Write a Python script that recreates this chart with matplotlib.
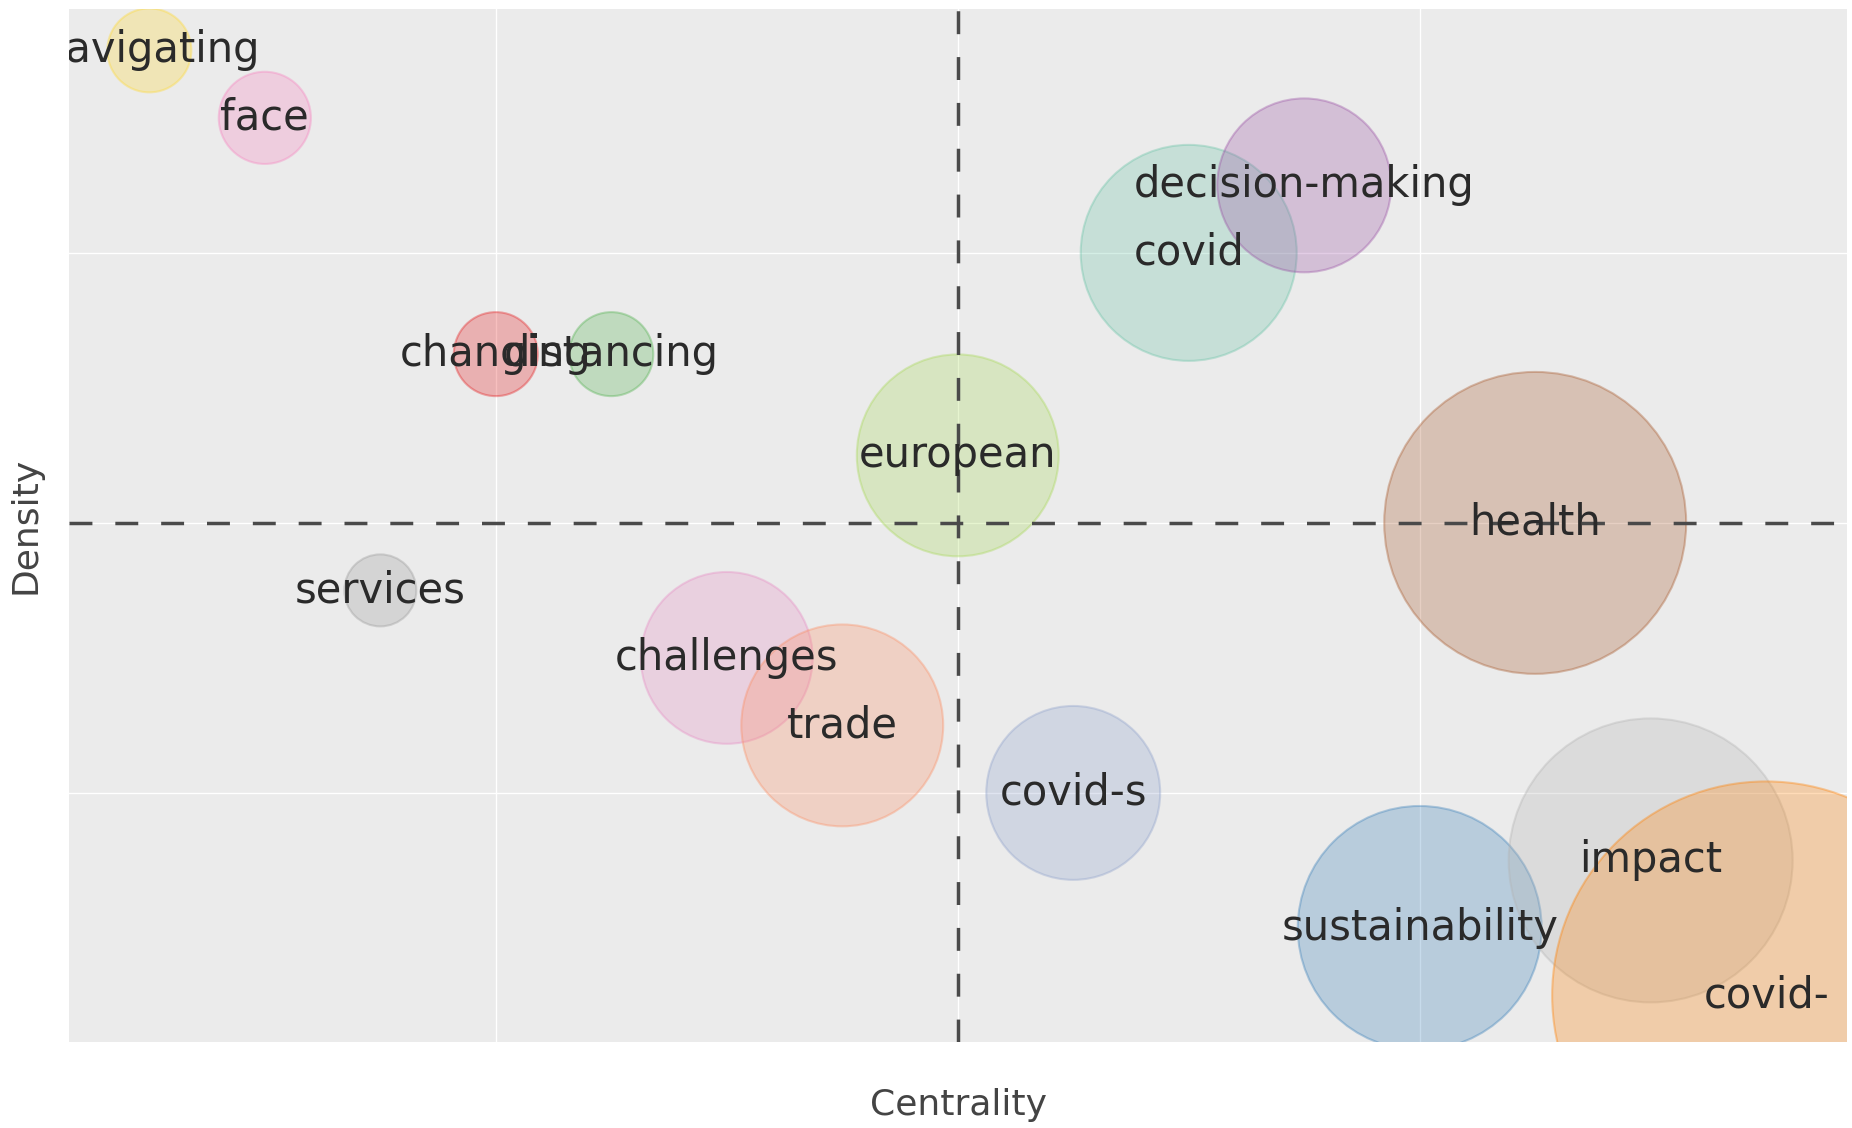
import numpy as np
import matplotlib
matplotlib.use("Agg")
import matplotlib.pyplot as plt
from matplotlib.colors import to_rgba

# ---- data (thematic map: rank centrality vs rank density) ----
themes = ["navigating", "face", "changing", "distancing", "european",
          "covid", "decision-making", "health", "services", "challenges",
          "trade", "covid-s", "sustainability", "impact", "covid-"]
centrality_rank = [1, 2, 4, 5, 8, 10, 11, 13, 3, 6, 7, 9, 12, 14, 15]
density_rank = [15, 14, 10.5, 10.5, 9, 12, 13, 8, 7, 6, 5, 4, 2, 3, 1]
occurrences = [49, 59, 49, 49, 283, 324, 210, 633, 36, 205, 283, 210, 413, 560, 1272]
colors = ["#FFD92F", "#F781BF", "#E41A1C", "#4DAF4A", "#A6D854",
          "#66C2A5", "#984EA3", "#A65628", "#999999", "#E78AC3",
          "#FC8D62", "#8DA0CB", "#377EB8", "#B3B3B3", "#FF7F00"]

W, H, DPI = 1852, 1128, 100
fig = plt.figure(figsize=(W / DPI, H / DPI), dpi=DPI)
fig.patch.set_facecolor("white")

left, right, top, bottom = 68.5, 1847, 8.5, 1042
ax = fig.add_axes([left / W, 1 - bottom / H, (right - left) / W, (bottom - top) / H])
ax.set_facecolor("#EBEBEB")
ax.set_xlim(0.3, 15.7)
ax.set_ylim(0.31, 15.62)
ax.set_xticks([4, 8, 12])
ax.set_yticks([4, 8, 12])
ax.grid(True, color="white", linewidth=1.0, zorder=0)
ax.set_axisbelow(True)
ax.tick_params(length=0, labelbottom=False, labelleft=False)
for sp in ax.spines.values():
    sp.set_visible(False)

# bubble sizes: radius (px) proportional to sqrt(occurrences)
occ = np.array(occurrences, dtype=float)
radius_px = 6.0 * np.sqrt(occ)
sizes = (2 * radius_px * 72.0 / DPI) ** 2

face = [to_rgba(c, 0.28) for c in colors]
edge = [to_rgba(c, 0.36) for c in colors]
ax.scatter(centrality_rank, density_rank, s=sizes, c=face, edgecolors=edge,
           linewidths=1.5, zorder=2)

cx = np.mean(centrality_rank)
cy = np.mean(density_rank)
ax.axvline(cx, color="#4a4a4a", linewidth=2.5, dashes=(6.6, 6.6), zorder=3)
ax.axhline(cy, color="#4a4a4a", linewidth=2.5, dashes=(6.6, 6.6), zorder=3)

for x, y, t in zip(centrality_rank, density_rank, themes):
    ax.text(x, y, t, ha="center", va="center", fontsize=30, color="#2a2a2a",
            clip_on=True, zorder=4, family="DejaVu Sans")

fig.text(958 / W, 1 - 1105 / H, "Centrality", ha="center", va="center",
         fontsize=26, color="#444444")
fig.text(26 / W, 1 - 525 / H, "Density", ha="center", va="center",
         rotation=90, fontsize=26, color="#444444")

fig.savefig("out.png", dpi=DPI, facecolor="white")
